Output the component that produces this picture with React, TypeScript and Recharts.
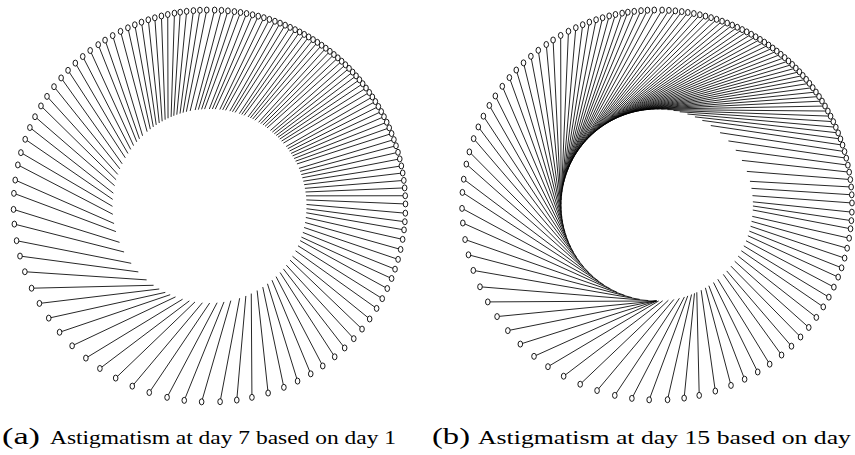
import React from 'react';
import { ScatterChart, Scatter, XAxis, YAxis, ReferenceLine } from 'recharts';

// Outer needle-head angles (degrees, counter-clockwise from +x), shared by both panels
const outerAngles = [
  0.6, 3.0, 5.3, 7.5, 9.7, 11.8, 13.9, 15.9, 17.9, 19.8,
  21.7, 23.5, 25.3, 27.1, 28.8, 30.5, 32.2, 33.8, 35.4, 37.0,
  38.6, 40.1, 41.6, 43.1, 44.6, 46.1, 47.6, 49.1, 50.6, 52.1,
  53.6, 55.1, 56.6, 58.1, 59.6, 61.1, 62.6, 64.1, 65.7, 67.3,
  68.9, 70.5, 72.2, 73.9, 75.6, 77.3, 79.1, 80.9, 82.7, 84.6,
  86.5, 88.5,
  90.8, 92.8, 94.7, 96.7, 98.6, 100.3, 102.3, 104.2, 106.2, 108.2,
  110.3, 112.4, 114.6, 117.0, 119.6, 122.2, 124.6, 127.5, 130.3, 133.2,
  136.2, 139.2, 142.5, 146.0, 149.3, 152.9, 156.4, 160.1, 164.2, 167.9,
  172.4, 176.3,
  181.0, 185.3, 190.2, 194.8, 199.6, 204.8, 209.8, 214.9, 220.1, 225.5,
  230.9, 236.0, 241.4, 246.8, 252.1, 257.5, 262.6, 267.7,
  273.1, 278.0, 282.5, 287.4, 292.3, 296.7, 301.1, 305.3, 309.7, 313.6,
  317.4, 321.1, 324.8, 328.5, 331.8, 335.1, 338.3, 341.2, 344.2, 347.2,
  350.2, 353.0, 355.4, 357.9,
];

// Angular twist of each needle's inner end (degrees), panel (a): day 7 vs day 1
const twistA = [
  3, 3, 3, 3, 3, 3, 3, 3, 3, 3,
  4, 4, 4, 4, 4, 4, 4, 4, 5, 5,
  5, 5, 5, 5, 5, 5, 6, 6, 6, 6,
  6, 7, 7, 7, 7, 8, 8, 8, 9, 9,
  9, 10, 10, 10, 11, 11, 11, 12, 12, 12,
  12, 13,
  13, 13, 13, 13, 13, 13, 13, 13, 13, 13,
  13, 13, 13, 13, 14, 14, 14, 14, 14, 14,
  14, 15, 15, 15, 15, 15, 16, 16, 16, 17,
  18, 19,
  21, 23, 26, 28, 30, 30, 29, 28, 26, 24,
  23, 22, 20, 19, 18, 17, 16, 15,
  15, 14, 13, 12, 11, 10, 9, 8, 7, 6,
  5, 5, 4, 4, 4, 4, 3, 3, 3, 3,
  3, 3, 3, 3,
];

// Angular twist of each needle's inner end (degrees), panel (b): day 15 vs day 1
const twistB = [
  5, 7, 9, 13, 18, 23, 28, 33, 38, 42,
  45, 48, 51, 53, 55, 57, 58, 59, 60, 60,
  60, 60, 60, 60, 60, 60, 60, 60, 60, 60,
  60, 60, 60, 60, 60, 60, 60, 60, 60, 60,
  60, 60, 60, 60, 60, 60, 60, 60, 60, 60,
  60, 60,
  60, 60, 60, 60, 60, 60, 60, 60, 60, 60,
  60, 60, 60, 60, 60, 60, 60, 60, 60, 60,
  60, 60, 60, 60, 60, 60, 60, 60, 60, 60,
  60, 60,
  60, 60, 60, 60, 60, 60, 60, 55, 49, 44,
  39, 35, 32, 30, 28, 26, 24, 21,
  18, 15, 12, 10, 8, 6, 5, 4, 4, 3,
  3, 3, 3, 3, 3, 3, 3, 3, 3, 3,
  3, 4, 4, 4,
];

const innerRatioA = 0.495;
const innerRatioB = 0.492;

const captionA = ['(a)', 'Astigmatism at day 7 based on day 1'];
const captionB = ['(b)', 'Astigmatism at day 15 based on day'];

type Needle = { x: number; y: number; ix: number; iy: number };

function buildNeedles(twists: number[], innerRatio: number): Needle[] {
  return outerAngles.map((t, i) => {
    const a = (t * Math.PI) / 180;
    const b = ((t + twists[i]) * Math.PI) / 180;
    return {
      x: Math.cos(a),
      y: Math.sin(a),
      ix: innerRatio * Math.cos(b),
      iy: innerRatio * Math.sin(b),
    };
  });
}

const needlesA = buildNeedles(twistA, innerRatioA);
const needlesB = buildNeedles(twistB, innerRatioB);

const Marker = (props: any) => {
  const { cx, cy } = props;
  if (cx == null || cy == null) return null;
  return (
    <ellipse cx={cx} cy={cy} rx={2.3} ry={3.0} fill="#fff" stroke="#000" strokeWidth={0.9} />
  );
};

function Panel(props: {
  needles: Needle[];
  left: number;
  width: number;
  height: number;
  cx: number;
  cy: number;
  scale: number;
}) {
  const { needles, left, width, height, cx, cy, scale } = props;
  const xDomain = [-cx / scale, (width - cx) / scale];
  const yDomain = [-(height - cy) / scale, cy / scale];
  return (
    <div style={{ position: 'absolute', left, top: 0 }}>
      <ScatterChart width={width} height={height} margin={{ top: 0, right: 0, bottom: 0, left: 0 }}>
        <XAxis type="number" dataKey="x" domain={xDomain} hide allowDataOverflow />
        <YAxis type="number" dataKey="y" domain={yDomain} hide allowDataOverflow />
        {needles.map((n, i) => (
          <ReferenceLine
            key={i}
            segment={[
              { x: n.x, y: n.y },
              { x: n.ix, y: n.iy },
            ]}
            stroke="#000"
            strokeWidth={0.85}
            ifOverflow="visible"
          />
        ))}
        <Scatter data={needles} dataKey="y" shape={Marker} isAnimationActive={false} />
      </ScatterChart>
    </div>
  );
}

export default function App() {
  const font = "'Liberation Serif', 'DejaVu Serif', serif";
  return (
    <div
      style={{
        position: 'fixed',
        left: 0,
        top: 0,
        width: 855,
        height: 455,
        background: '#fff',
        overflow: 'hidden',
      }}
    >
      <Panel needles={needlesA} left={0} width={420} height={420} cx={209.5} cy={206} scale={196} />
      <Panel needles={needlesB} left={430} width={425} height={420} cx={227} cy={205} scale={195} />
      <svg
        width={855}
        height={455}
        style={{ position: 'absolute', left: 0, top: 0, pointerEvents: 'none' }}
      >
        <text x={2} y={444} fontFamily={font} fontSize={24} fill="#000" textLength={38} lengthAdjust="spacingAndGlyphs">
          {captionA[0]}
        </text>
        <text x={50} y={444} fontFamily={font} fontSize={18.5} fill="#000" textLength={346} lengthAdjust="spacingAndGlyphs">
          {captionA[1]}
        </text>
        <text x={432} y={444} fontFamily={font} fontSize={24} fill="#000" textLength={38} lengthAdjust="spacingAndGlyphs">
          {captionB[0]}
        </text>
        <text x={478} y={444} fontFamily={font} fontSize={18.5} fill="#000" textLength={373} lengthAdjust="spacingAndGlyphs">
          {captionB[1]}
        </text>
      </svg>
    </div>
  );
}
